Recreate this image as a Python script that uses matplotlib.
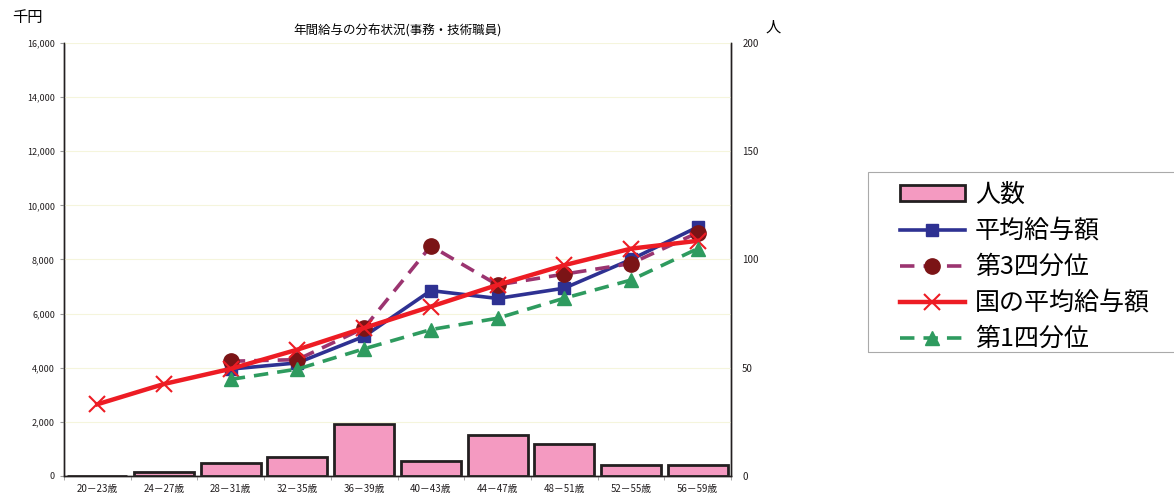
import numpy as np
import matplotlib.pyplot as plt
from matplotlib.patches import Rectangle
from matplotlib.ticker import FuncFormatter, FixedLocator

plt.rcParams['font.family'] = ['Noto Sans CJK JP', 'DejaVu Sans']

ages = ['20－23歳', '24－27歳', '28－31歳', '32－35歳', '36－39歳',
        '40－43歳', '44－47歳', '48－51歳', '52－55歳', '56－59歳']
headcount = [0, 2, 6, 9, 24, 7, 19, 15, 5, 5]
avg_pay = [np.nan, np.nan, 3950, 4180, 5160, 6850, 6560, 6940, 8000, 9200]
q3_pay = [np.nan, np.nan, 4240, 4300, 5470, 8500, 7060, 7460, 7850, 8990]
nat_pay = [2650, 3400, 3960, 4670, 5470, 6260, 7060, 7790, 8400, 8690]
q1_pay = [np.nan, np.nan, 3570, 3950, 4700, 5410, 5830, 6570, 7240, 8400]

x = np.arange(len(ages))

fig = plt.figure(figsize=(11.74, 4.98), dpi=100)
ax = fig.add_axes([0.0545, 0.0442, 0.5682, 0.8695])
ax2 = ax.twinx()

# bars on the right (people) axis, lines drawn above them
bars = ax2.bar(x, headcount, width=0.9, color='#f49ac1', edgecolor='#231f20',
               linewidth=2, label='人数')
ax.set_zorder(ax2.get_zorder() + 1)
ax.patch.set_visible(False)

l_avg, = ax.plot(x, avg_pay, color='#2e3192', lw=2.6, marker='s', ms=8,
                 label='平均給与額')
l_q3, = ax.plot(x, q3_pay, color='#9b3470', lw=2.6, ls=(0, (4, 2.5)),
                marker='o', ms=11, mfc='#7b1416', mec='#7b1416', label='第3四分位')
l_nat, = ax.plot(x, nat_pay, color='#ed1c24', lw=3.2, marker='x', ms=11, mew=1.5,
                 label='国の平均給与額')
l_q1, = ax.plot(x, q1_pay, color='#2e9b5f', lw=2.6, ls=(0, (4, 2.5)),
                marker='^', ms=10, label='第1四分位')

ax.set_xlim(-0.5, len(ages) - 0.5)
ax.set_ylim(0, 16000)
ax2.set_ylim(0, 200)
ax.set_yticks(np.arange(0, 16001, 2000))
ax2.set_yticks([0, 50, 100, 150, 200])
ax.yaxis.set_major_formatter(FuncFormatter(lambda v, p: f'{int(v):,}'))
ax.grid(axis='y', color='#f5f5dc', lw=0.8)
ax.set_axisbelow(True)

ax.set_xticks(x)
ax.set_xticklabels(ages)
ax.xaxis.set_minor_locator(FixedLocator(np.arange(-0.5, len(ages), 1)))
ax.tick_params(axis='x', which='major', length=0, labelsize=7, pad=6, colors='#231f20')
ax.tick_params(axis='x', which='minor', length=3, color='#999999')
ax.tick_params(axis='y', length=3, color='#999999', labelsize=6.5, labelcolor='#231f20')
ax2.tick_params(axis='y', length=0, labelsize=7, pad=8, labelcolor='#231f20')

for a in (ax, ax2):
    a.spines['top'].set_visible(False)
    for s in ('left', 'right', 'bottom'):
        a.spines[s].set_color('#231f20')
        a.spines[s].set_linewidth(1.0)

ax.set_title('年間給与の分布状況(事務・技術職員)', fontsize=9, pad=6)
fig.text(0.010, 0.965, '千円', fontsize=11, va='center')
fig.text(0.652, 0.945, '人', fontsize=11, va='center')

# legend frame drawn separately, running off the right edge like the original
fig.patches.append(Rectangle((0.7394, 0.2932), 0.27, 0.3614, transform=fig.transFigure,
                             fill=False, edgecolor='#aaaaaa', lw=0.8))
leg = fig.legend([bars, l_avg, l_q3, l_nat, l_q1],
                 ['人数', '平均給与額', '第3四分位', '国の平均給与額', '第1四分位'],
                 loc='upper left', bbox_to_anchor=(0.7666, 0.6345), fontsize=18,
                 frameon=False, handlelength=2.6, handleheight=0.6,
                 labelspacing=0.4, borderpad=0, handletextpad=0.4, borderaxespad=0)

fig.savefig('out.png', dpi=100)
